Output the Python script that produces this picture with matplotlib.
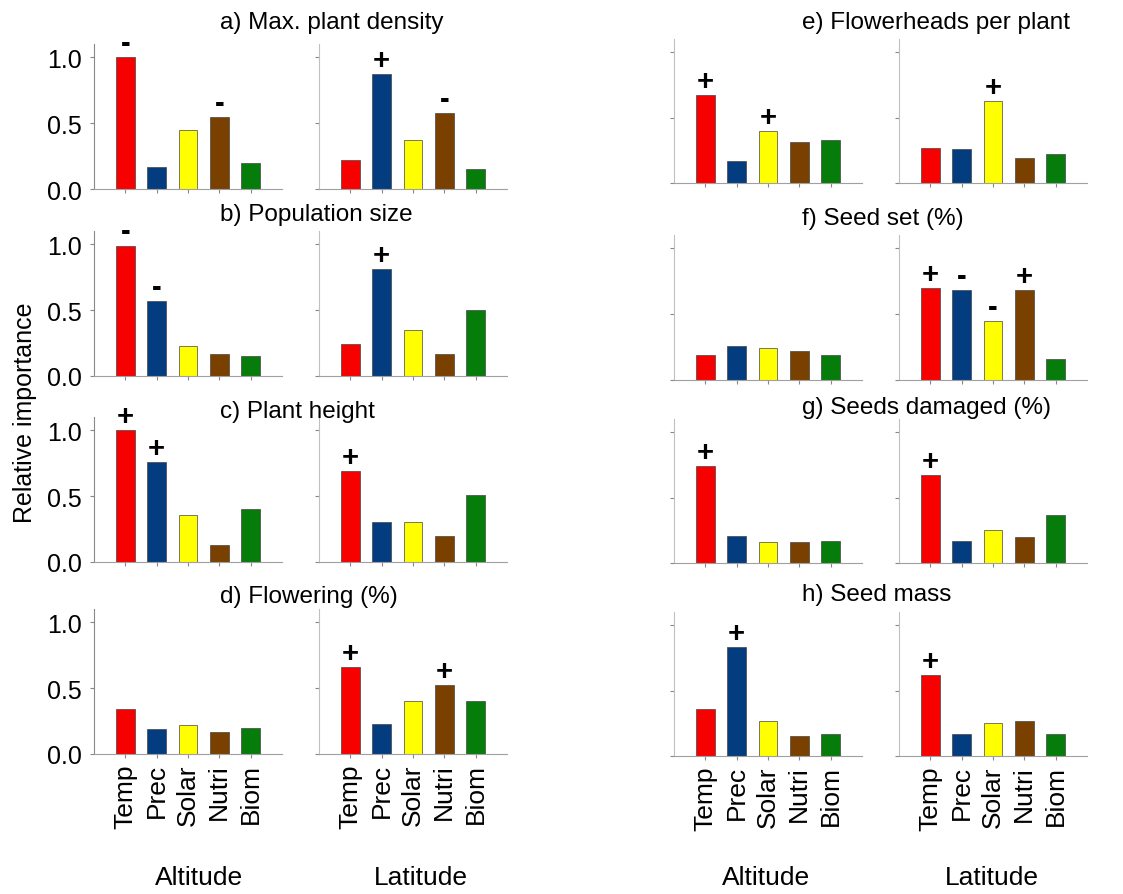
import matplotlib
matplotlib.use("Agg")
import matplotlib.pyplot as plt

plt.rcParams['font.family'] = ['Liberation Sans', 'DejaVu Sans']

# predictors and their bar colours
factors = ['Temp', 'Prec', 'Solar', 'Nutri', 'Biom']
bar_colors = ['#f70000', '#033d7f', '#ffff00', '#7a4000', '#067d0a']

# relative importance per response (altitude / latitude gradient)
density_alt = [1.00, 0.17, 0.45, 0.55, 0.20]
density_lat = [0.22, 0.87, 0.37, 0.58, 0.15]
popsize_alt = [0.99, 0.57, 0.23, 0.17, 0.15]
popsize_lat = [0.24, 0.81, 0.35, 0.17, 0.50]
height_alt = [1.00, 0.76, 0.36, 0.13, 0.40]
height_lat = [0.69, 0.30, 0.30, 0.20, 0.51]
flowering_alt = [0.34, 0.19, 0.22, 0.17, 0.20]
flowering_lat = [0.66, 0.23, 0.40, 0.52, 0.40]
flowerheads_alt = [0.67, 0.17, 0.40, 0.31, 0.33]
flowerheads_lat = [0.27, 0.26, 0.63, 0.19, 0.22]
seedset_alt = [0.19, 0.26, 0.24, 0.22, 0.19]
seedset_lat = [0.70, 0.68, 0.45, 0.68, 0.16]
damaged_alt = [0.74, 0.21, 0.16, 0.16, 0.17]
damaged_lat = [0.67, 0.17, 0.25, 0.20, 0.37]
mass_alt = [0.36, 0.83, 0.27, 0.15, 0.17]
mass_lat = [0.62, 0.17, 0.25, 0.27, 0.17]

# sign of the effect, '' where not significant
density_alt_sign = ['-', '', '', '-', '']
density_lat_sign = ['', '+', '', '-', '']
popsize_alt_sign = ['-', '-', '', '', '']
popsize_lat_sign = ['', '+', '', '', '']
height_alt_sign = ['+', '+', '', '', '']
height_lat_sign = ['+', '', '', '', '']
flowering_alt_sign = ['', '', '', '', '']
flowering_lat_sign = ['+', '', '', '+', '']
flowerheads_alt_sign = ['+', '', '+', '', '']
flowerheads_lat_sign = ['', '', '+', '', '']
seedset_alt_sign = ['', '', '', '', '']
seedset_lat_sign = ['+', '-', '-', '+', '']
damaged_alt_sign = ['+', '', '', '', '']
damaged_lat_sign = ['+', '', '', '', '']
mass_alt_sign = ['', '+', '', '', '']
mass_lat_sign = ['+', '', '', '', '']

titles = ['a) Max. plant density', 'b) Population size', 'c) Plant height',
          'd) Flowering (%)', 'e) Flowerheads per plant', 'f) Seed set (%)',
          'g) Seeds damaged (%)', 'h) Seed mass']
group_labels = ['Altitude', 'Latitude', 'Altitude', 'Latitude']

left_panels = [
    (density_alt, density_alt_sign, density_lat, density_lat_sign),
    (popsize_alt, popsize_alt_sign, popsize_lat, popsize_lat_sign),
    (height_alt, height_alt_sign, height_lat, height_lat_sign),
    (flowering_alt, flowering_alt_sign, flowering_lat, flowering_lat_sign),
]
right_panels = [
    (flowerheads_alt, flowerheads_alt_sign, flowerheads_lat, flowerheads_lat_sign),
    (seedset_alt, seedset_alt_sign, seedset_lat, seedset_lat_sign),
    (damaged_alt, damaged_alt_sign, damaged_lat, damaged_lat_sign),
    (mass_alt, mass_alt_sign, mass_lat, mass_lat_sign),
]

W, H = 1123, 895
fig = plt.figure(figsize=(W / 100, H / 100), dpi=100)

# layout in pixels
col_x = [94, 319, 674, 899]
col_w = 188
group_x = [199, 421, 766, 992]
left_rows = [(45, 190), (232, 377), (418, 563), (610, 755)]
right_rows = [(40, 184), (236, 381), (420, 564), (613, 757)]
left_title_y = [23, 215, 412, 597]
right_title_y = [23, 219, 408, 595]


def panel(x0, top, bot, vals, signs, first_col, bottom_row):
    ax = fig.add_axes([x0 / W, 1 - bot / H, col_w / W, (bot - top) / H])
    pos = list(range(len(factors)))
    ax.bar(pos, vals, width=0.6, color=bar_colors, edgecolor='#444444', linewidth=0.5)
    for p, v, s in zip(pos, vals, signs):
        if s:
            ax.annotate(s, (p, v), xytext=(0, 0), textcoords='offset points',
                        ha='center', va='bottom', fontsize=21, fontweight='bold')
    ax.set_xlim(-1, 5)
    ax.set_ylim(0, 1.1)
    ax.set_yticks([0, 0.5, 1.0])
    for side in ['top', 'right']:
        ax.spines[side].set_visible(False)
    ax.spines['left'].set_color('#888888' if first_col else '#c0c0c0')
    ax.spines['bottom'].set_color('#a0a0a0')
    ax.tick_params(axis='both', direction='out', length=3, width=0.8, colors='#888888',
                   labelcolor='black')
    ax.tick_params(axis='y', pad=6)
    ax.set_xticks(pos)
    if bottom_row:
        ax.set_xticklabels(factors, rotation=90, fontsize=19)
    else:
        ax.set_xticklabels([])
    if first_col:
        ax.set_yticklabels(['0.0', '0.5', '1.0'], fontsize=18)
    else:
        ax.set_yticklabels([])
    return ax


for i, (alt, alt_s, lat, lat_s) in enumerate(left_panels):
    top, bot = left_rows[i]
    panel(col_x[0], top, bot, alt, alt_s, True, i == 3)
    panel(col_x[1], top, bot, lat, lat_s, False, i == 3)
    fig.text(220 / W, 1 - left_title_y[i] / H, titles[i], ha='left', va='center', fontsize=17.5)

for i, (alt, alt_s, lat, lat_s) in enumerate(right_panels):
    top, bot = right_rows[i]
    panel(col_x[2], top, bot, alt, alt_s, False, i == 3)
    panel(col_x[3], top, bot, lat, lat_s, False, i == 3)
    fig.text(802 / W, 1 - right_title_y[i] / H, titles[4 + i], ha='left', va='center', fontsize=17.5)

fig.text(25 / W, 1 - 413 / H, 'Relative importance', rotation=90,
         ha='center', va='center', fontsize=18)

for x, label in zip(group_x, group_labels):
    fig.text(x / W, 1 - 878 / H, label, ha='center', va='center', fontsize=19)

fig.savefig('out.png', dpi=100)
